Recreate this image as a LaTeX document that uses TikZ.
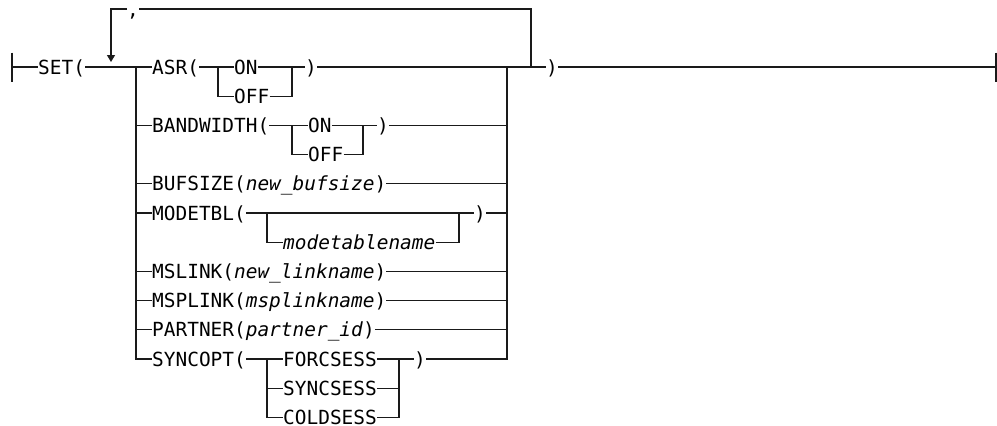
\documentclass[tikz,border=0pt]{standalone}
\usepackage{fontspec}
\newfontfamily\railfont{DejaVu Sans Mono}
\usetikzlibrary{arrows.meta,positioning,calc}
\definecolor{rail}{HTML}{1a1a1a}

\begin{document}
\begin{tikzpicture}[
  x=1pt, y=-1pt,
  every node/.style={font=\railfont\fontsize{19.44}{23}\selectfont, text=black,
    inner sep=0pt, anchor=west, text height=14.2pt, text depth=0pt},
  line/.style={draw=rail, line width=1.2pt},
  loop/.style={line, -{Triangle[width=8pt, length=7pt]}}
]
  \useasboundingbox (0,0) rectangle (997,426);

  % start and end of the statement
  \coordinate (start) at (12,67);
  \coordinate (stop) at (996,67);
  \draw[line] (start) ++(0,-14.5) -- ++(0,29);
  \draw[line] (stop) ++(0,-14.5) -- ++(0,29);

  \node (set) at (38,67) {SET(};
  \node (comma) at (127,9) {,};
  \node (close) at (546,67) {)};

  % junctions of the choice and of the repeat loop
  \coordinate (jL) at (136,67);
  \coordinate (jR) at (507,67);
  \coordinate (lpR) at (531,67);
  \coordinate (lpTip) at (111,62);

  % ASR
  \node (asr) at (152,67) {ASR(};
  \node (asrOn) at (234,67) {ON};
  \node (asrOff) at (234,96.2) {OFF};
  \node (asrEnd) at (305,67) {)};
  \coordinate (asrL) at (218,67);
  \coordinate (asrR) at (292,67);

  % BANDWIDTH
  \node (bw) at (152,125.4) {BANDWIDTH(};
  \node (bwOn) at (308,125.4) {ON};
  \node (bwOff) at (308,154.6) {OFF};
  \node (bwEnd) at (377,125.4) {)};
  \coordinate (bwL) at (292,125.4);
  \coordinate (bwR) at (363,125.4);

  \node (buf) at (152,183.8) {BUFSIZE(\textit{new\_bufsize})};

  % MODETBL
  \node (mod) at (152,213) {MODETBL(};
  \node (modName) at (283,242.2) {\textit{modetablename}};
  \node (modEnd) at (474,213) {)};
  \coordinate (modL) at (267,213);
  \coordinate (modR) at (459,213);

  \node (msl) at (152,271.4) {MSLINK(\textit{new\_linkname})};
  \node (mspl) at (152,300.6) {MSPLINK(\textit{msplinkname})};
  \node (partner) at (152,329.8) {PARTNER(\textit{partner\_id})};

  % SYNCOPT
  \node (sync) at (152,359) {SYNCOPT(};
  \node (forc) at (283,359) {FORCSESS};
  \node (syncs) at (283,388.2) {SYNCSESS};
  \node (cold) at (283,417.4) {COLDSESS};
  \node (syncEnd) at (414,359) {)};
  \coordinate (syncL) at (267,359);
  \coordinate (syncR) at (399,359);

  % main line
  \draw[line] (start) -- (set.west);
  \draw[line] (set.east) -- (asr.west);
  \draw[line] (asrEnd.east) -- (close.west);
  \draw[line] (close.east) -- (stop);

  % repeat loop with separator
  \draw[line] (lpR) |- (comma.east);
  \draw[loop] (comma.west) -| (lpTip);

  % choice brackets
  \draw[line] (jL) |- (sync.west);
  \draw[line] (jR) |- (syncEnd.east);
  \foreach \n in {bw,buf,mod,msl,mspl,partner}
    \draw[line] (jL |- \n.west) -- (\n.west);
  \foreach \n in {bwEnd,buf,modEnd,msl,mspl,partner}
    \draw[line] (\n.east) -- (jR |- \n.east);

  % ON / OFF
  \draw[line] (asr.east) -- (asrOn.west);
  \draw[line] (asrOn.east) -- (asrEnd.west);
  \draw[line] (asrL) |- (asrOff.west);
  \draw[line] (asrOff.east) -| (asrR);
  \draw[line] (bw.east) -- (bwOn.west);
  \draw[line] (bwOn.east) -- (bwEnd.west);
  \draw[line] (bwL) |- (bwOff.west);
  \draw[line] (bwOff.east) -| (bwR);

  % optional table name
  \draw[line] (mod.east) -- (modEnd.west);
  \draw[line] (modL) |- (modName.west);
  \draw[line] (modName.east) -| (modR);

  % session types
  \draw[line] (sync.east) -- (forc.west);
  \draw[line] (forc.east) -- (syncEnd.west);
  \draw[line] (syncL) |- (cold.west);
  \draw[line] (syncL |- syncs.west) -- (syncs.west);
  \draw[line] (syncs.east) -- (syncR |- syncs.east);
  \draw[line] (cold.east) -| (syncR);
\end{tikzpicture}
\end{document}
